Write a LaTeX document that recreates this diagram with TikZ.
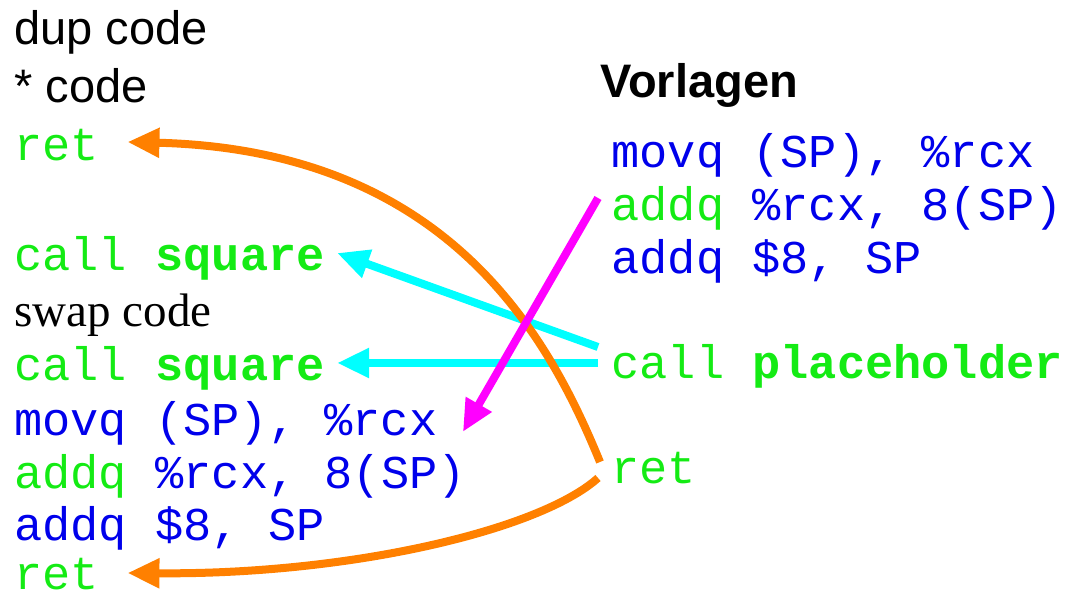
\documentclass[tikz,border=0pt]{standalone}
\usepackage{fontspec}
\setmainfont{Liberation Sans}
\setmonofont{Liberation Mono}
\newfontfamily\timesfont{Liberation Serif}
\usetikzlibrary{arrows.meta}
\usetikzlibrary{calc}
\definecolor{codegreen}{RGB}{20,235,20}
\definecolor{codeblue}{RGB}{0,0,235}
\definecolor{retorange}{RGB}{255,128,0}
\definecolor{callcyan}{RGB}{0,255,255}
\definecolor{inlmagenta}{RGB}{255,0,255}
\newcommand\grn[1]{\textcolor{codegreen}{#1}}

\begin{document}
\begin{tikzpicture}[x=0.5pt, y=-0.5pt]
\tikzstyle{code} = [inner sep=0pt, anchor=base west, font=\ttfamily\fontsize{23.5}{28}\selectfont, text=codeblue]
\tikzstyle{txt} = [inner sep=0pt, anchor=base west, font=\fontsize{23.5}{28}\selectfont]
\tikzstyle{jump} = [line width=4pt, -{Triangle[length=16pt,width=14pt]}]

\useasboundingbox (0,0) rectangle (1067,597);

% Program
\node (dup) [txt] at (14,45) {dup code};
\node (mul) [txt] at (14,103) {* code};
\node (retA) [code] at (14,161) {\grn{ret}};
\node (sqA) [code] at (14,271) {\grn{call \textbf{square}}};
\node (swap) [txt, font=\timesfont\fontsize{23.5}{28}\selectfont] at (14,327) {swap code};
\node (sqB) [code] at (14,381) {\grn{call \textbf{square}}};
\node (movqL) [code] at (14,436) {movq (SP), \%rcx};
\node (addqL) [code] at (14,489) {\grn{addq} \%rcx, 8(SP)};
\node (popL) [code] at (14,541) {addq \$8, SP};
\node (retB) [code] at (14,590) {\grn{ret}};

% Templates
\node (vorl) [txt, font=\bfseries\fontsize{23.5}{28}\selectfont] at (600,98) {Vorlagen};
\node (movqR) [code] at (611,168) {movq (SP), \%rcx};
\node (addqR) [code] at (611,221) {\grn{addq} \%rcx, 8(SP)};
\node (popR) [code] at (611,274) {addq \$8, SP};
\node (callP) [code] at (611,379) {\grn{call \textbf{placeholder}}};
\node (retR) [code] at (611,484) {\grn{ret}};

% Draws
% calls
\draw [jump, callcyan] ($(callP.base west)+(-13,-32)$) -- ($(sqA.base east)+(12,-18)$);
\draw [jump, callcyan] ($(callP.base west)+(-13,-16)$) -- ($(sqB.base east)+(12,-18)$);

% returns
\draw [jump, retorange] ($(retR.base west)+(-11,-22)$) .. controls +(-50,-122) and +(323,8) .. ($(retA.base east)+(28,-19)$);
\draw [jump, retorange] ($(retR.base west)+(-13,-6)$) .. controls +(-58,52) and +(223,2) .. ($(retB.base east)+(28,-17)$);

% inlined body
\draw [jump, inlmagenta] ($(addqR.base west)+(-13,-23)$) -- ($(movqL.base east)+(25,-4)$);
\end{tikzpicture}
\end{document}
